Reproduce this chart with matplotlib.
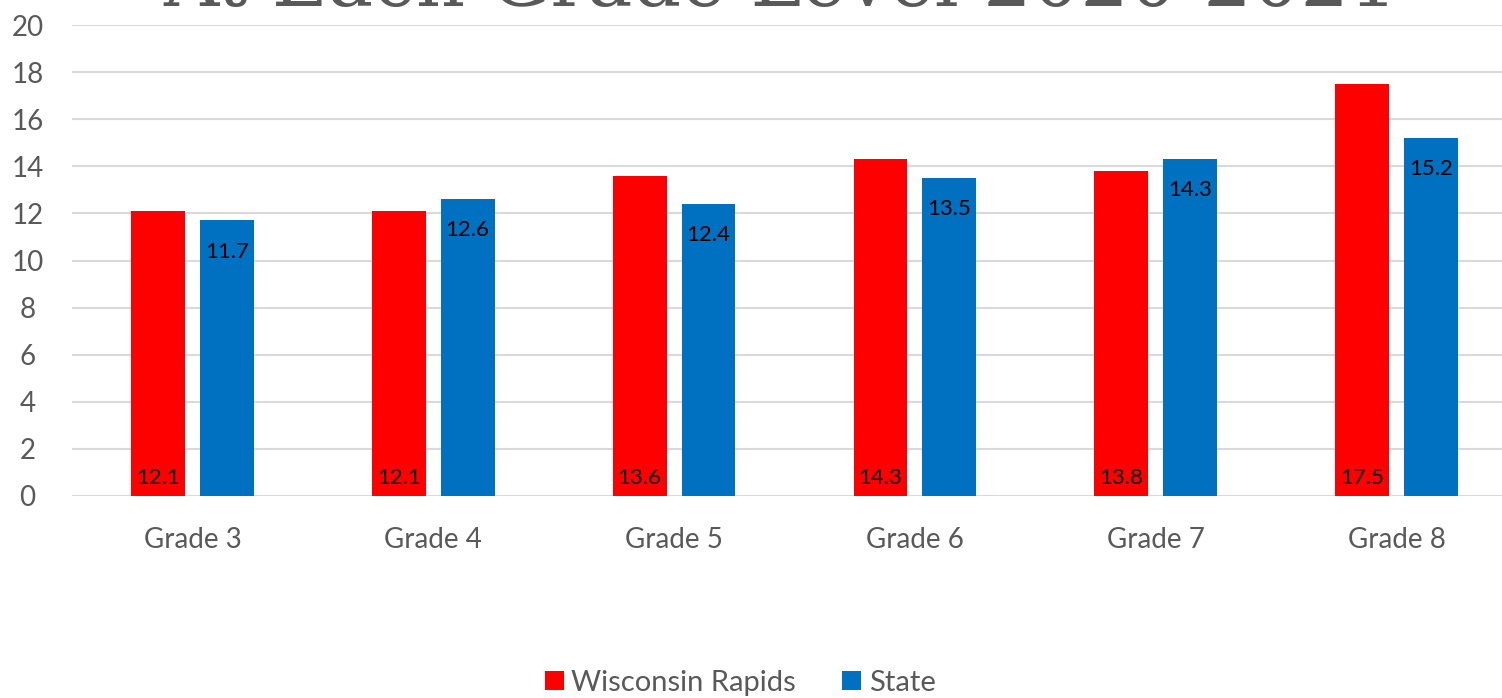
import matplotlib
matplotlib.use("Agg")
import matplotlib.pyplot as plt
import numpy as np

grades = ['Grade 3', 'Grade 4', 'Grade 5', 'Grade 6', 'Grade 7', 'Grade 8']
rapids = [12.1, 12.1, 13.6, 14.3, 13.8, 17.5]
state = [11.7, 12.6, 12.4, 13.5, 14.3, 15.2]

plt.rcParams['font.family'] = ['Lato', 'DejaVu Sans']

fig = plt.figure(figsize=(15.02, 6.98), dpi=100)
# plot area runs off the right side of the picture, like the cropped original
ax = fig.add_axes([72/1502, 1-496/698, 1445/1502, 471/698])

x = np.arange(len(grades))
w = 0.224
off = 0.143
red = '#ff0000'
blue = '#0070c0'
ax.bar(x - off, rapids, w, color=red, label='Wisconsin Rapids', zorder=3)
ax.bar(x + off, state, w, color=blue, label='State', zorder=3)

# red labels sit at the base, blue labels just inside the top
for xi, v in zip(x, rapids):
    ax.text(xi - off, 0.32, f'{v}', ha='center', va='bottom', fontsize=16, color='black', zorder=4)
for xi, v in zip(x, state):
    ax.text(xi + off, v - 0.9, f'{v}', ha='center', va='top', fontsize=16, color='black', zorder=4)

ax.set_xlim(-0.5, len(grades) - 0.5)
ax.set_ylim(0, 20)
ax.set_yticks(range(0, 21, 2))
ax.set_xticks(x)
ax.set_xticklabels(grades)
ax.tick_params(axis='both', length=0, labelsize=20, colors='#595959')
ax.tick_params(axis='x', pad=22)
ax.tick_params(axis='y', pad=32)
for lbl in ax.get_yticklabels():
    lbl.set_horizontalalignment('center')
ax.yaxis.grid(True, color='#d9d9d9', linewidth=1.5, zorder=0)
for s in ax.spines.values():
    s.set_visible(False)

# title is mostly cut off at the top of the picture
fig.text(0.52, 1 - 6/698, 'At Each Grade Level 2020-2021', ha='center', va='baseline',
         fontsize=55, color='#595959', family='DejaVu Serif')

fig.legend(loc='center', bbox_to_anchor=(740/1502, 1-683/698), ncol=2, frameon=False,
           fontsize=21, labelcolor='#595959', handlelength=0.65, handleheight=0.65,
           handletextpad=0.25, columnspacing=1.6)

fig.savefig('out.png', dpi=100)
